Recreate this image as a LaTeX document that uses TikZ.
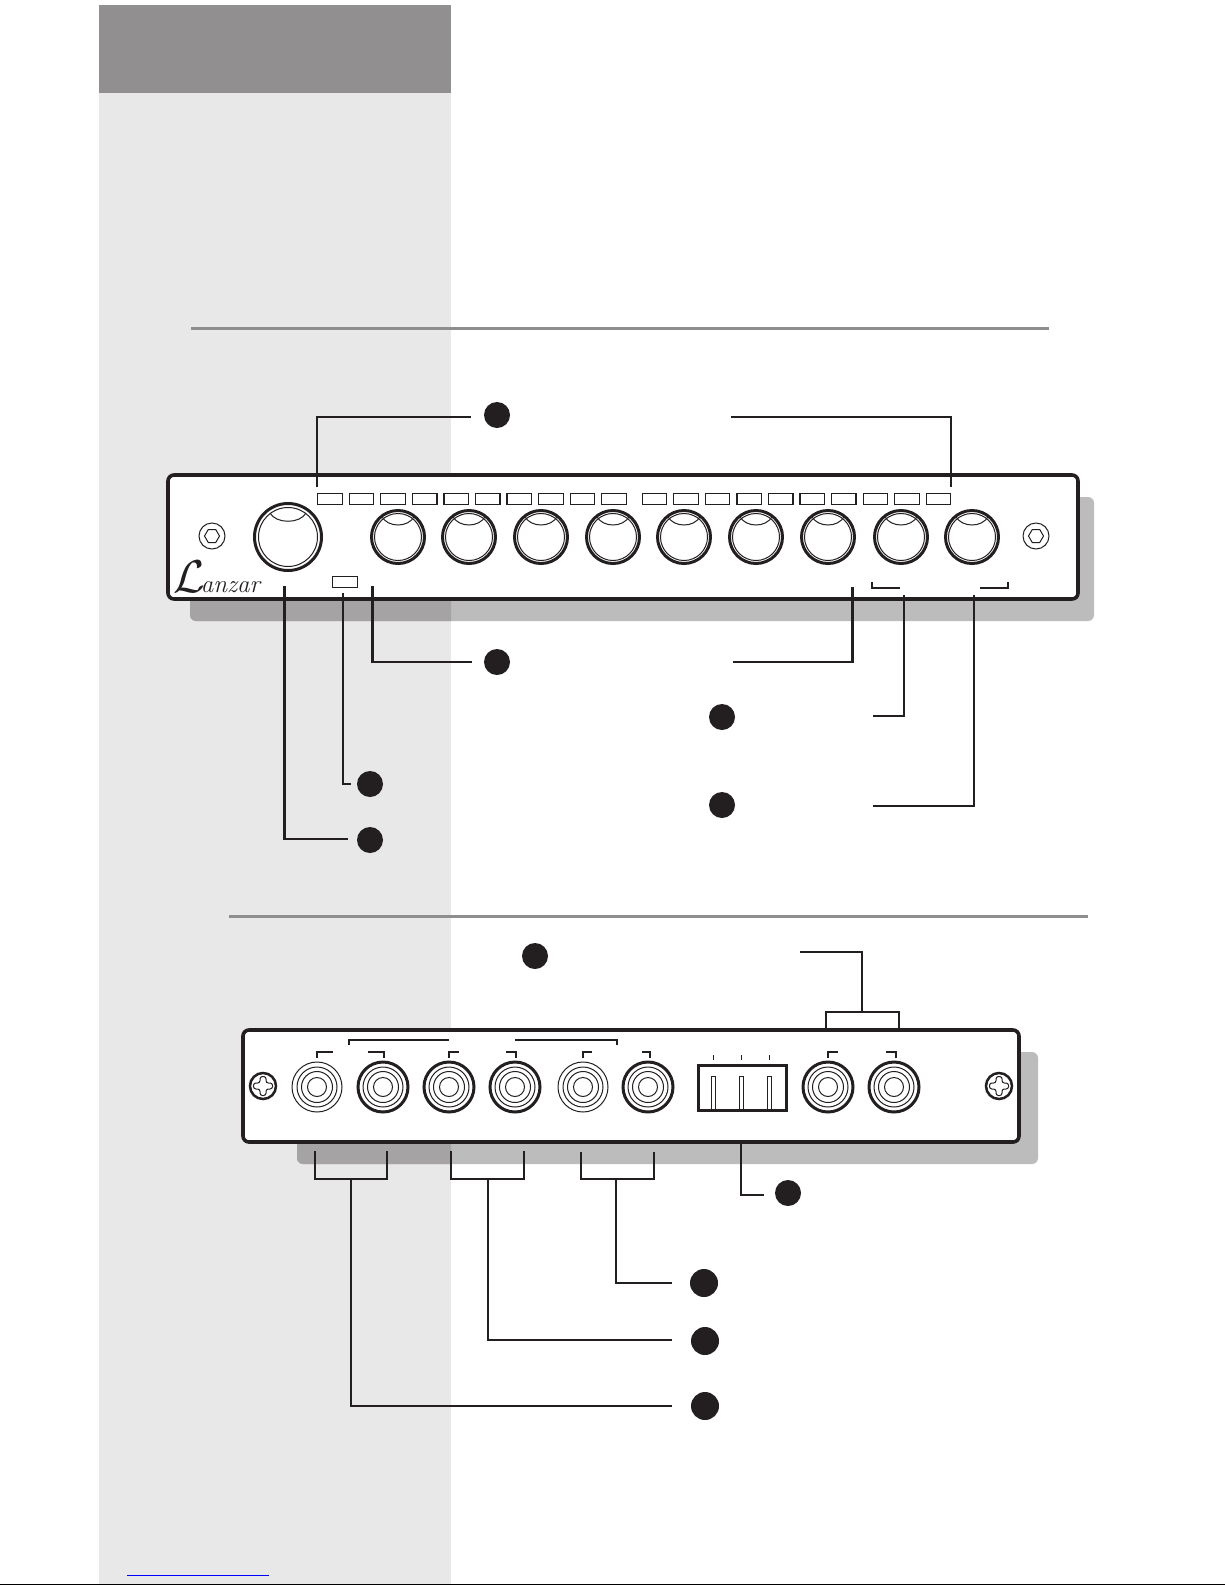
\documentclass[tikz,border=0pt]{standalone}
\usepackage{graphicx}
\usetikzlibrary{positioning}
\usetikzlibrary{shapes.geometric}
\definecolor{ink}{HTML}{231F20}
\definecolor{bandlight}{HTML}{E8E8E8}
\definecolor{banddark}{HTML}{918F90}
\definecolor{shadow}{HTML}{BCBCBC}
\definecolor{shadowband}{HTML}{A5A3A3}
\definecolor{rule}{HTML}{8F8D8D}
\tikzset{
    every picture/.style={>=stealth,auto,x=1pt,y=-1pt},
    leader/.style={draw=ink,line width=2.8pt},
    marker/.style={circle,fill=ink,minimum size=26pt,inner sep=0pt,outer sep=0pt},
    panel/.style={rectangle,draw=ink,fill=white,line width=3.6pt,rounded corners=6pt,inner sep=0pt,outer sep=0pt},
    led/.style={rectangle,draw=ink,line width=1.2pt,minimum width=24.5pt,minimum height=11.5pt,inner sep=0pt,outer sep=0pt},
    knob/.style={circle,draw=ink,fill=white,line width=3pt,inner sep=0pt,outer sep=0pt},
    jack/.style={circle,draw=ink,fill=white,inner sep=0pt,outer sep=0pt,minimum size=50pt},
    thinring/.style={draw=ink,line width=1pt},
    tick/.style={draw=ink,line width=2pt},
}

\begin{document}
\begin{tikzpicture}
\useasboundingbox (0,0) rectangle (1225,1585);
\fill[white] (0,0) rectangle (1225,1585);

% side band
\fill[bandlight] (99,5) rectangle (451,1585);
\fill[banddark] (99,5) rectangle (451,93);
\draw[blue,line width=1pt] (127,1575.3) -- (269,1575.3);
\draw[black,line width=1.2pt] (0,1584.4) -- (1225,1584.4);

% section rules
\draw[rule,line width=3pt] (191,328.5) -- (1049,328.5);
\draw[rule,line width=3pt] (229,916) -- (1088,916);

% shadows
\fill[shadow,rounded corners=6pt] (190,497) rectangle (1094,621);
\fill[shadow,rounded corners=6pt] (297,1052) rectangle (1038,1164);
\begin{scope}
\clip (99,5) rectangle (451,1585);
\fill[shadowband,rounded corners=6pt] (190,497) rectangle (1094,621);
\fill[shadowband,rounded corners=6pt] (297,1052) rectangle (1038,1164);
\end{scope}

% front panel
\node[panel,minimum width=910pt,minimum height=124pt] (front) at (623,537) {};

\foreach \x in {0,1,...,9}{
  \node[led] (ledA\x) at ({330+31.55*\x},499) {};
  \node[led] (ledB\x) at ({654.5+31.55*\x},499) {};
}
\node[led] (power) at (345,582) {};

\node[knob,minimum size=67pt] (master) at (288,537) {};
\draw[thinring] (master) circle[radius=29.5];
\draw[thinring] (master) ++(-18,-24) .. controls ++(6,11) and ++(-6,11) .. ++(36,0);

\foreach \x [count=\i] in {398,469,541,613,684,756,828,901,972}{
  \node[knob,minimum size=53pt] (k\i) at (\x,537) {};
  \draw[thinring] (k\i) circle[radius=23.5];
  \draw[thinring] (k\i) ++(-16.5,-21) .. controls ++(6,12) and ++(-6,12) .. ++(33,0);
}

\foreach \x [count=\i] in {212,1036}{
  \node[circle,draw=ink,line width=1pt,minimum size=26pt,inner sep=0pt] (hex\i) at (\x,536) {};
  \node[regular polygon,regular polygon sides=6,draw=ink,line width=1pt,minimum size=15pt,inner sep=0pt] at (hex\i) {};
}

\node[anchor=base west,inner sep=0pt,text=ink] (logo) at (173,592)
  {\scalebox{4.6}{$\mathcal{L}$}\kern-4pt{\fontsize{25}{25}\selectfont\itshape anzar}};

% rear panel
\node[panel,minimum width=776pt,minimum height=112pt] (rear) at (631,1086) {};

\foreach \x/\w [count=\i] in {317/1,383/3,449/3,515/3,583/1,648/3,828/3,894/3}{
  \node[jack,line width=\w pt] (j\i) at (\x,1087) {};
  \draw[thinring] (j\i) circle[radius=20];
  \draw[thinring] (j\i) circle[radius=15.5];
  \draw[thinring] (j\i) circle[radius=9.5];
}

\foreach \x [count=\i] in {263,999}{
  \node[circle,draw=ink,line width=2.5pt,minimum size=26pt,inner sep=0pt] (cross\i) at (\x,1086) {};
  \draw[ink,line width=1pt,rounded corners=2.4pt] (cross\i) ++(-3,-9.5) -- ++(6,0) -- ++(0,6.5)
    -- ++(6.5,0) -- ++(0,6) -- ++(-6.5,0) -- ++(0,6.5) -- ++(-6,0) -- ++(0,-6.5)
    -- ++(-6.5,0) -- ++(0,-6) -- ++(6.5,0) -- cycle;
}

% switch
\node[rectangle,draw=ink,line width=2.5pt,minimum width=88pt,minimum height=45pt,inner sep=0pt] (switch) at (742.5,1088) {};
\foreach \x in {713,741.5,769.5}{
  \draw[ink,line width=0.9pt] (\x-2,1109) -- (\x-2,1076) -- (\x+2,1076) -- (\x+2,1109);
  \draw[ink,line width=1pt] (\x,1055) -- (\x,1060);
}

% marks over the jacks
\foreach \a/\b in {317/333,384/368,449/459,516/506,583/592,650/642,828/838,896/886}{
  \draw[tick] (\a,1058) -- (\a,1052) -- (\b,1052);
}
\draw[tick] (349,1045) -- (349,1040) -- (449,1040);
\draw[tick] (617,1045) -- (617,1040) -- (515,1040);
\draw[tick] (872,582) -- (872,588) -- (900,588);
\draw[tick] (1008,582) -- (1008,588) -- (980,588);

% markers
\node[marker] (mLed) at (497,415) {};
\node[marker] (mGain) at (497,662) {};
\node[marker] (mLeft) at (722,717) {};
\node[marker] (mRight) at (722,805) {};
\node[marker] (mPower) at (370,784) {};
\node[marker] (mMaster) at (370,840) {};
\node[marker] (mSub) at (535,956) {};
\node[marker,minimum size=26pt] (mSwitch) at (788,1193) {};
\node[marker,minimum size=28pt] (mRcaC) at (704,1283) {};
\node[marker,minimum size=28pt] (mRcaB) at (705,1341) {};
\node[marker,minimum size=28pt] (mRcaA) at (705,1406) {};

% connector ends
\coordinate (ledL) at (317,487);
\coordinate (ledLend) at (471,417);
\coordinate (ledR) at (951,487);
\coordinate (ledRend) at (731,417);
\coordinate (gainL) at (372.5,586);
\coordinate (gainLend) at (472,662);
\coordinate (gainR) at (852.5,587);
\coordinate (gainRend) at (733,662);
\coordinate (leftIn) at (904,595);
\coordinate (leftEnd) at (873,716);
\coordinate (rightIn) at (974,595);
\coordinate (rightEnd) at (873,806);
\coordinate (powerIn) at (343,593);
\coordinate (powerEnd) at (351,784);
\coordinate (masterIn) at (284.5,586);
\coordinate (masterEnd) at (348,839);
\coordinate (switchIn) at (741,1143);
\coordinate (switchEnd) at (764,1195);
\coordinate (subTop) at (862,1012);
\coordinate (subEnd) at (800,952);
\coordinate (subA) at (826,1029);
\coordinate (subB) at (899,1029);
\coordinate (rcaA1) at (315,1151);
\coordinate (rcaA2) at (387,1151);
\coordinate (rcaAtop) at (351,1179);
\coordinate (rcaAend) at (672,1406);
\coordinate (rcaB1) at (451,1151);
\coordinate (rcaB2) at (524,1151);
\coordinate (rcaBtop) at (488,1179);
\coordinate (rcaBend) at (672,1340);
\coordinate (rcaC1) at (581,1152);
\coordinate (rcaC2) at (654,1152);
\coordinate (rcaCtop) at (616,1179);
\coordinate (rcaCend) at (672,1283);

\foreach \a/\b in {ledL/ledLend,ledR/ledRend,gainL/gainLend,gainR/gainRend,leftIn/leftEnd,rightIn/rightEnd,powerIn/powerEnd,masterIn/masterEnd,switchIn/switchEnd,subTop/subEnd,rcaAtop/rcaAend,rcaBtop/rcaBend,rcaCtop/rcaCend}{
  \draw[leader] (\a) |- (\b);
}
\draw[leader] (subA) |- (subTop) -| (subB);
\draw[leader] (rcaA1) |- (rcaAtop) -| (rcaA2);
\draw[leader] (rcaB1) |- (rcaBtop) -| (rcaB2);
\draw[leader] (rcaC1) |- (rcaCtop) -| (rcaC2);

\end{tikzpicture}
\end{document}
